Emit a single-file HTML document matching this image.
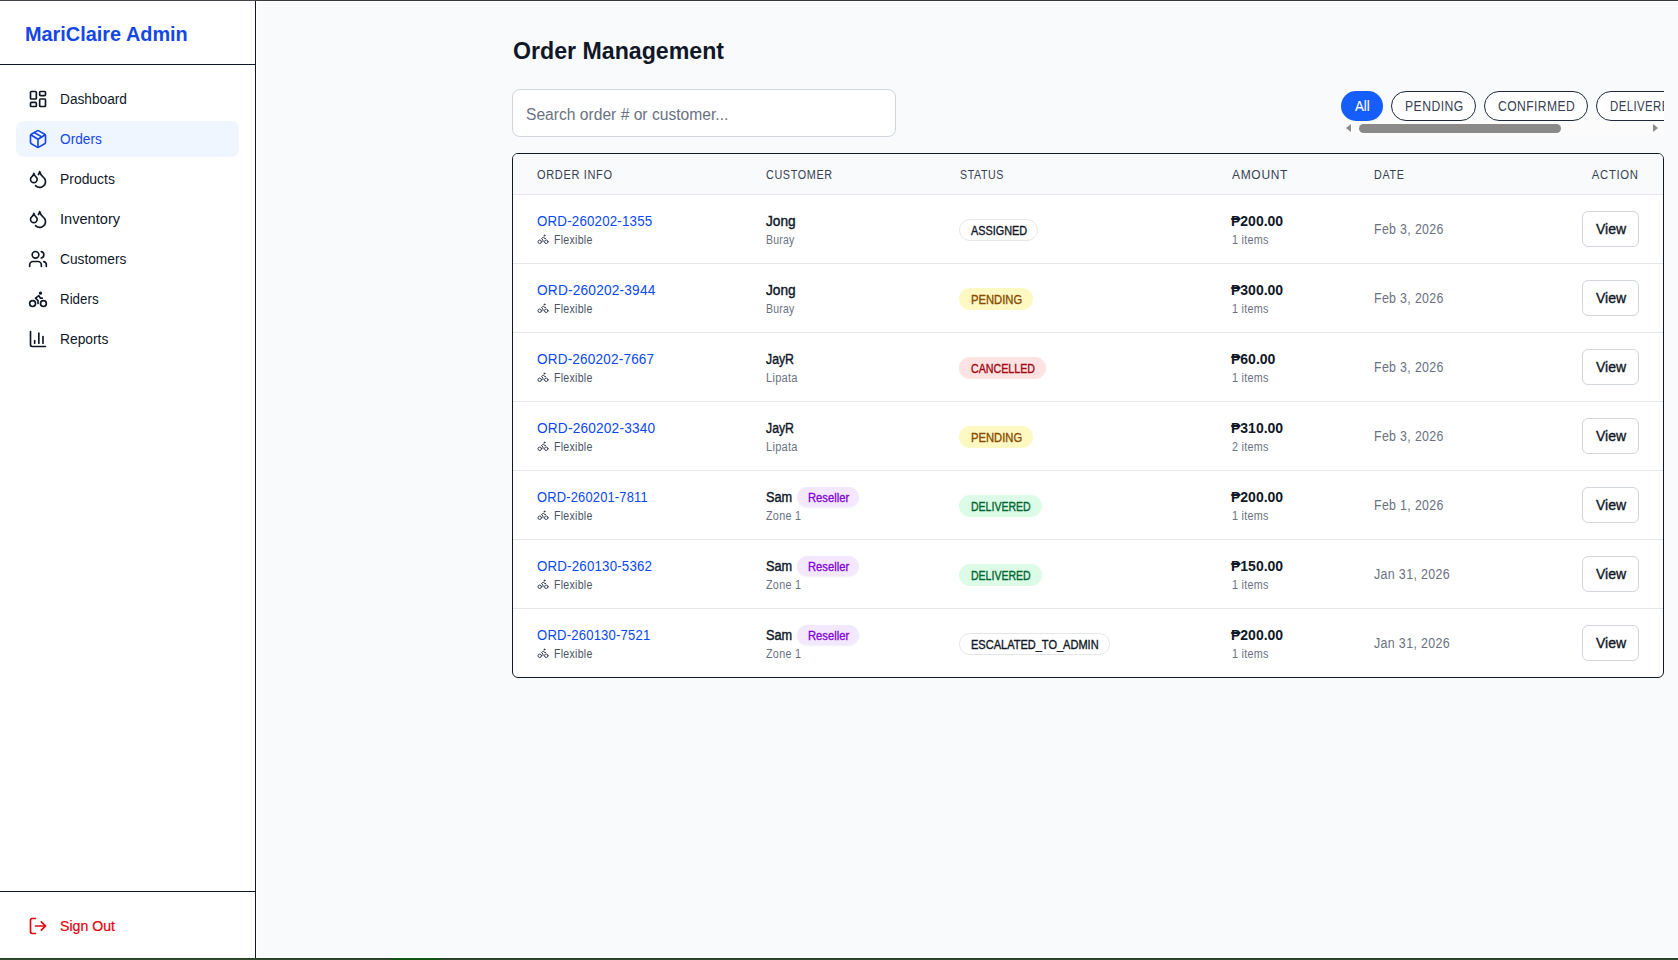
<!DOCTYPE html><html><head><meta charset="utf-8"><title>Order Management</title><style>
html,body{margin:0;padding:0;}body{width:1678px;height:960px;position:relative;overflow:hidden;background:#fff;font-family:"Liberation Sans", sans-serif;}
div,svg{box-sizing:border-box;}.t{position:absolute;white-space:nowrap;}.a{position:absolute;}
</style></head><body>
<div class="a" style="left:0;top:0;width:256px;height:1px;background:#45424a"></div>
<div class="a" style="left:256px;top:0;width:1422px;height:1px;background:#383838"></div>
<div class="a" style="left:0;top:958px;width:1678px;height:1px;background:#24401f"></div>
<div class="a" style="left:0;top:959px;width:1678px;height:1px;background:#304a30"></div>
<div class="a" style="left:392px;top:958px;width:48px;height:2px;background:#0f5814"></div>
<div class="a" style="left:257px;top:2px;width:1421px;height:955px;background:#f9fafb"></div>
<div class="a" style="left:255px;top:1px;width:1px;height:957px;background:#101828"></div>
<div class="a" style="left:0;top:64px;width:255px;height:1px;background:#101828"></div>
<div class="a" style="left:0;top:891px;width:255px;height:1px;background:#101828"></div>
<div class="t" style="left:25px;top:21.5px;height:25px;line-height:25px;font-size:20px;font-weight:700;color:#1447e6;transform:scaleX(0.9939);transform-origin:0 0;">MariClaire Admin</div>
<svg style="position:absolute;left:28px;top:89px" width="20" height="20" viewBox="0 0 24 24" fill="none" stroke="#101828" stroke-width="2" stroke-linecap="round" stroke-linejoin="round"><rect width="7" height="9" x="3" y="3" rx="1"/><rect width="7" height="5" x="14" y="3" rx="1"/><rect width="7" height="9" x="14" y="12" rx="1"/><rect width="7" height="5" x="3" y="16" rx="1"/></svg>
<div class="t" style="left:60px;top:90.0px;height:18px;line-height:18px;font-size:14px;font-weight:400;color:#101828;transform:scaleX(0.9781);transform-origin:0 0;">Dashboard</div>
<div class="a" style="left:16px;top:121px;width:223px;height:36px;border-radius:8px;background:#eff6ff"></div>
<svg style="position:absolute;left:28px;top:129px" width="20" height="20" viewBox="0 0 24 24" fill="none" stroke="#1447e6" stroke-width="2" stroke-linecap="round" stroke-linejoin="round"><path d="M11 21.73a2 2 0 0 0 2 0l7-4A2 2 0 0 0 21 16V8a2 2 0 0 0-1-1.730l-7-4a2 2 0 0 0-2 0l-7 4A2 2 0 0 0 3 8v8a2 2 0 0 0 1 1.73z"/><path d="M12 22V12"/><path d="m3.3 7 7.703 4.734a2 2 0 0 0 1.994 0L20.7 7"/><path d="m7.5 4.27 9 5.15"/></svg>
<div class="t" style="left:60px;top:130.0px;height:18px;line-height:18px;font-size:14px;font-weight:400;color:#1447e6;transform:scaleX(0.9766);transform-origin:0 0;">Orders</div>
<svg style="position:absolute;left:28px;top:169px" width="20" height="20" viewBox="0 0 24 24" fill="none" stroke="#101828" stroke-width="2" stroke-linecap="round" stroke-linejoin="round"><path d="M7 16.3c2.2 0 4-1.83 4-4.05 0-1.16-.57-2.26-1.71-3.19S7.29 6.75 7 5.3c-.29 1.45-1.14 2.84-2.29 3.76S3 11.1 3 12.25c0 2.22 1.8 4.05 4 4.05z"/><path d="M12.56 6.6A10.97 10.97 0 0 0 14 3.02c.5 2.5 2 4.9 4 6.5s3 3.5 3 5.5a6.98 6.98 0 0 1-11.91 4.97"/></svg>
<div class="t" style="left:60px;top:170.0px;height:18px;line-height:18px;font-size:14px;font-weight:400;color:#101828;transform:scaleX(0.9928);transform-origin:0 0;">Products</div>
<svg style="position:absolute;left:28px;top:209px" width="20" height="20" viewBox="0 0 24 24" fill="none" stroke="#101828" stroke-width="2" stroke-linecap="round" stroke-linejoin="round"><path d="M7 16.3c2.2 0 4-1.83 4-4.05 0-1.16-.57-2.26-1.71-3.19S7.29 6.75 7 5.3c-.29 1.45-1.14 2.84-2.29 3.76S3 11.1 3 12.25c0 2.22 1.8 4.05 4 4.05z"/><path d="M12.56 6.6A10.97 10.97 0 0 0 14 3.02c.5 2.5 2 4.9 4 6.5s3 3.5 3 5.5a6.98 6.98 0 0 1-11.91 4.97"/></svg>
<div class="t" style="left:60px;top:210.0px;height:18px;line-height:18px;font-size:14px;font-weight:400;color:#101828;transform:scaleX(1.0434);transform-origin:0 0;">Inventory</div>
<svg style="position:absolute;left:28px;top:249px" width="20" height="20" viewBox="0 0 24 24" fill="none" stroke="#101828" stroke-width="2" stroke-linecap="round" stroke-linejoin="round"><path d="M16 21v-2a4 4 0 0 0-4-4H6a4 4 0 0 0-4 4v2"/><circle cx="9" cy="7" r="4"/><path d="M22 21v-2a4 4 0 0 0-3-3.87"/><path d="M16 3.13a4 4 0 0 1 0 7.75"/></svg>
<div class="t" style="left:60px;top:250.0px;height:18px;line-height:18px;font-size:14px;font-weight:400;color:#101828;transform:scaleX(0.9808);transform-origin:0 0;">Customers</div>
<svg style="position:absolute;left:28px;top:289px" width="20" height="20" viewBox="0 0 24 24" fill="none" stroke="#101828" stroke-width="2" stroke-linecap="round" stroke-linejoin="round"><circle cx="18.5" cy="17.5" r="3.5"/><circle cx="5.5" cy="17.5" r="3.5"/><circle cx="15" cy="5" r="1"/><path d="M12 17.5V14l-3-3 4-3 2 3h2"/></svg>
<div class="t" style="left:60px;top:290.0px;height:18px;line-height:18px;font-size:14px;font-weight:400;color:#101828;transform:scaleX(0.9531);transform-origin:0 0;">Riders</div>
<svg style="position:absolute;left:28px;top:329px" width="20" height="20" viewBox="0 0 24 24" fill="none" stroke="#101828" stroke-width="2" stroke-linecap="round" stroke-linejoin="round"><path d="M3 3v16a2 2 0 0 0 2 2h16"/><path d="M18 17V9"/><path d="M13 17V5"/><path d="M8 17v-3"/></svg>
<div class="t" style="left:60px;top:330.0px;height:18px;line-height:18px;font-size:14px;font-weight:400;color:#101828;transform:scaleX(0.9857);transform-origin:0 0;">Reports</div>
<svg style="position:absolute;left:28px;top:916px" width="20" height="20" viewBox="0 0 24 24" fill="none" stroke="#e7000b" stroke-width="2" stroke-linecap="round" stroke-linejoin="round"><path d="m16 17 5-5-5-5"/><path d="M21 12H9"/><path d="M9 21H5a2 2 0 0 1-2-2V5a2 2 0 0 1 2-2h4"/></svg>
<div class="t" style="left:60px;top:917.0px;height:18px;line-height:18px;font-size:14px;font-weight:400;color:#e7000b;transform:scaleX(1.0092);transform-origin:0 0;-webkit-text-stroke:0.2px #e7000b;">Sign Out</div>
<div class="t" style="left:513px;top:35.5px;height:30px;line-height:30px;font-size:24px;font-weight:700;color:#101828;transform:scaleX(0.9648);transform-origin:0 0;">Order Management</div>
<div class="a" style="left:512px;top:89px;width:384px;height:48px;background:#fff;border:1px solid #d1d5dc;border-radius:8px"></div>
<div class="t" style="left:526px;top:104.5px;height:20px;line-height:20px;font-size:16px;font-weight:400;color:#6a7282;transform:scaleX(0.9764);transform-origin:0 0;">Search order # or customer...</div>
<div class="a" style="left:1341px;top:91px;width:323px;height:45px;overflow:hidden">
<div class="a" style="left:0px;top:0;width:42px;height:30px;border-radius:15px;background:#155dfc"></div>
<div class="t" style="left:14px;top:6.0px;height:18px;line-height:18px;font-size:14px;font-weight:400;color:#fff;transform:scaleX(0.9487);transform-origin:0 0;-webkit-text-stroke:0.1px #fff;">All</div>
<div class="a" style="left:50px;top:0;width:85px;height:30px;border-radius:15px;background:#fff;border:1px solid #1e2939"></div>
<div class="t" style="left:64px;top:6.0px;height:18px;line-height:18px;font-size:14px;font-weight:400;color:#364153;transform:scaleX(0.8713);transform-origin:0 0;letter-spacing:0.5px;">PENDING</div>
<div class="a" style="left:143px;top:0;width:104px;height:30px;border-radius:15px;background:#fff;border:1px solid #1e2939"></div>
<div class="t" style="left:157px;top:6.0px;height:18px;line-height:18px;font-size:14px;font-weight:400;color:#364153;transform:scaleX(0.8649);transform-origin:0 0;letter-spacing:0.5px;">CONFIRMED</div>
<div class="a" style="left:255px;top:0;width:110px;height:30px;border-radius:15px;background:#fff;border:1px solid #1e2939"></div>
<div class="t" style="left:269px;top:6.0px;height:18px;line-height:18px;font-size:14px;font-weight:400;color:#364153;transform:scaleX(0.8149);transform-origin:0 0;letter-spacing:0.5px;">DELIVERED</div>
<div class="a" style="left:0;top:30px;width:323px;height:15px;background:#fbfbfc"></div>
<div class="a" style="left:18px;top:33px;width:202px;height:9px;border-radius:4.5px;background:#8a8a8a"></div>
<div class="a" style="left:5px;top:33px;width:0;height:0;border-top:4.5px solid transparent;border-bottom:4.5px solid transparent;border-right:5px solid #8a8a8a"></div>
<div class="a" style="left:312px;top:33px;width:0;height:0;border-top:4.5px solid transparent;border-bottom:4.5px solid transparent;border-left:5px solid #8a8a8a"></div>
</div>
<div class="a" style="left:512px;top:153px;width:1152px;height:525px;border:1px solid #101828;border-radius:6px;background:#fff;overflow:hidden">
<div class="a" style="left:0;top:0;width:1150px;height:41px;background:#f9fafb;border-bottom:1px solid #e5e7eb"></div>
<div class="t" style="left:24px;top:13.5px;height:15px;line-height:15px;font-size:12px;font-weight:400;color:#364153;transform:scaleX(0.9191);transform-origin:0 0;letter-spacing:0.7px;">ORDER INFO</div>
<div class="t" style="left:253px;top:13.5px;height:15px;line-height:15px;font-size:12px;font-weight:400;color:#364153;transform:scaleX(0.9005);transform-origin:0 0;letter-spacing:0.7px;">CUSTOMER</div>
<div class="t" style="left:447px;top:13.5px;height:15px;line-height:15px;font-size:12px;font-weight:400;color:#364153;transform:scaleX(0.8859);transform-origin:0 0;letter-spacing:0.7px;">STATUS</div>
<div class="t" style="left:719px;top:13.5px;height:15px;line-height:15px;font-size:12px;font-weight:400;color:#364153;transform:scaleX(0.9982);transform-origin:0 0;letter-spacing:0.7px;">AMOUNT</div>
<div class="t" style="left:861px;top:13.5px;height:15px;line-height:15px;font-size:12px;font-weight:400;color:#364153;transform:scaleX(0.8976);transform-origin:0 0;letter-spacing:0.7px;">DATE</div>
<div class="t" style="right:24.4px;top:13.5px;height:15px;line-height:15px;font-size:12px;font-weight:400;color:#364153;transform:scaleX(0.9426);transform-origin:100% 0;letter-spacing:0.7px;">ACTION</div>
<div class="a" style="left:0;top:109px;width:1150px;height:1px;background:#e5e7eb"></div>
<div class="t" style="left:24px;top:58.0px;height:18px;line-height:18px;font-size:14px;font-weight:400;color:#0a48f5;transform:scaleX(0.9513);transform-origin:0 0;letter-spacing:0.2px;">ORD-260202-1355</div>
<svg style="position:absolute;left:24px;top:79px" width="12" height="12" viewBox="0 0 24 24" fill="none" stroke="#364153" stroke-width="2" stroke-linecap="round" stroke-linejoin="round"><circle cx="18.5" cy="17.5" r="3.5"/><circle cx="5.5" cy="17.5" r="3.5"/><circle cx="15" cy="5" r="1"/><path d="M12 17.5V14l-3-3 4-3 2 3h2"/></svg>
<div class="t" style="left:41px;top:78.5px;height:15px;line-height:15px;font-size:12px;font-weight:400;color:#4a5565;transform:scaleX(0.8813);transform-origin:0 0;letter-spacing:0.3px;">Flexible</div>
<div class="t" style="left:253px;top:58.0px;height:18px;line-height:18px;font-size:14px;font-weight:400;color:#101828;transform:scaleX(0.9770);transform-origin:0 0;-webkit-text-stroke:0.4px #101828;">Jong</div>
<div class="t" style="left:253px;top:78.5px;height:15px;line-height:15px;font-size:12px;font-weight:400;color:#6a7282;transform:scaleX(0.8708);transform-origin:0 0;letter-spacing:0.3px;">Buray</div>
<div class="a" style="left:446px;top:65px;width:79px;height:22px;border-radius:11px;background:#fff;border:1px solid #e5e7eb"></div>
<div class="t" style="left:458px;top:69.5px;height:15px;line-height:15px;font-size:12px;font-weight:400;color:#101828;transform:scaleX(0.9032);transform-origin:0 0;-webkit-text-stroke:0.35px #101828;">ASSIGNED</div>
<div class="t" style="left:718px;top:58.0px;height:18px;line-height:18px;font-size:14px;font-weight:700;color:#101828;">₱200.00</div>
<div class="t" style="left:719px;top:78.5px;height:15px;line-height:15px;font-size:12px;font-weight:400;color:#6a7282;transform:scaleX(0.8982);transform-origin:0 0;letter-spacing:0.3px;">1 items</div>
<div class="t" style="left:861px;top:66.0px;height:18px;line-height:18px;font-size:14px;font-weight:400;color:#6a7282;transform:scaleX(0.8818);transform-origin:0 0;letter-spacing:0.4px;">Feb 3, 2026</div>
<div class="a" style="left:1069px;top:57px;width:57px;height:36px;border-radius:6px;background:#fff;border:1px solid #d1d5dc"></div>
<div class="t" style="left:1083px;top:66.0px;height:18px;line-height:18px;font-size:14px;font-weight:400;color:#101828;transform:scaleX(1.0033);transform-origin:0 0;-webkit-text-stroke:0.35px #101828;">View</div>
<div class="a" style="left:0;top:178px;width:1150px;height:1px;background:#e5e7eb"></div>
<div class="t" style="left:24px;top:127.0px;height:18px;line-height:18px;font-size:14px;font-weight:400;color:#0a48f5;transform:scaleX(0.9769);transform-origin:0 0;letter-spacing:0.2px;">ORD-260202-3944</div>
<svg style="position:absolute;left:24px;top:148px" width="12" height="12" viewBox="0 0 24 24" fill="none" stroke="#364153" stroke-width="2" stroke-linecap="round" stroke-linejoin="round"><circle cx="18.5" cy="17.5" r="3.5"/><circle cx="5.5" cy="17.5" r="3.5"/><circle cx="15" cy="5" r="1"/><path d="M12 17.5V14l-3-3 4-3 2 3h2"/></svg>
<div class="t" style="left:41px;top:147.5px;height:15px;line-height:15px;font-size:12px;font-weight:400;color:#4a5565;transform:scaleX(0.8813);transform-origin:0 0;letter-spacing:0.3px;">Flexible</div>
<div class="t" style="left:253px;top:127.0px;height:18px;line-height:18px;font-size:14px;font-weight:400;color:#101828;transform:scaleX(0.9770);transform-origin:0 0;-webkit-text-stroke:0.4px #101828;">Jong</div>
<div class="t" style="left:253px;top:147.5px;height:15px;line-height:15px;font-size:12px;font-weight:400;color:#6a7282;transform:scaleX(0.8708);transform-origin:0 0;letter-spacing:0.3px;">Buray</div>
<div class="a" style="left:446px;top:134px;width:74px;height:22px;border-radius:11px;background:#fef9c2;border:none"></div>
<div class="t" style="left:458px;top:138.5px;height:15px;line-height:15px;font-size:12px;font-weight:400;color:#894b00;transform:scaleX(0.9360);transform-origin:0 0;-webkit-text-stroke:0.35px #894b00;">PENDING</div>
<div class="t" style="left:718px;top:127.0px;height:18px;line-height:18px;font-size:14px;font-weight:700;color:#101828;">₱300.00</div>
<div class="t" style="left:719px;top:147.5px;height:15px;line-height:15px;font-size:12px;font-weight:400;color:#6a7282;transform:scaleX(0.8982);transform-origin:0 0;letter-spacing:0.3px;">1 items</div>
<div class="t" style="left:861px;top:135.0px;height:18px;line-height:18px;font-size:14px;font-weight:400;color:#6a7282;transform:scaleX(0.8818);transform-origin:0 0;letter-spacing:0.4px;">Feb 3, 2026</div>
<div class="a" style="left:1069px;top:126px;width:57px;height:36px;border-radius:6px;background:#fff;border:1px solid #d1d5dc"></div>
<div class="t" style="left:1083px;top:135.0px;height:18px;line-height:18px;font-size:14px;font-weight:400;color:#101828;transform:scaleX(1.0033);transform-origin:0 0;-webkit-text-stroke:0.35px #101828;">View</div>
<div class="a" style="left:0;top:247px;width:1150px;height:1px;background:#e5e7eb"></div>
<div class="t" style="left:24px;top:196.0px;height:18px;line-height:18px;font-size:14px;font-weight:400;color:#0a48f5;transform:scaleX(0.9670);transform-origin:0 0;letter-spacing:0.2px;">ORD-260202-7667</div>
<svg style="position:absolute;left:24px;top:217px" width="12" height="12" viewBox="0 0 24 24" fill="none" stroke="#364153" stroke-width="2" stroke-linecap="round" stroke-linejoin="round"><circle cx="18.5" cy="17.5" r="3.5"/><circle cx="5.5" cy="17.5" r="3.5"/><circle cx="15" cy="5" r="1"/><path d="M12 17.5V14l-3-3 4-3 2 3h2"/></svg>
<div class="t" style="left:41px;top:216.5px;height:15px;line-height:15px;font-size:12px;font-weight:400;color:#4a5565;transform:scaleX(0.8813);transform-origin:0 0;letter-spacing:0.3px;">Flexible</div>
<div class="t" style="left:253px;top:196.0px;height:18px;line-height:18px;font-size:14px;font-weight:400;color:#101828;transform:scaleX(0.8777);transform-origin:0 0;-webkit-text-stroke:0.4px #101828;">JayR</div>
<div class="t" style="left:253px;top:216.5px;height:15px;line-height:15px;font-size:12px;font-weight:400;color:#6a7282;transform:scaleX(0.9211);transform-origin:0 0;letter-spacing:0.3px;">Lipata</div>
<div class="a" style="left:446px;top:203px;width:87px;height:22px;border-radius:11px;background:#ffe2e2;border:none"></div>
<div class="t" style="left:458px;top:207.5px;height:15px;line-height:15px;font-size:12px;font-weight:400;color:#9f0712;transform:scaleX(0.8875);transform-origin:0 0;-webkit-text-stroke:0.35px #9f0712;">CANCELLED</div>
<div class="t" style="left:718px;top:196.0px;height:18px;line-height:18px;font-size:14px;font-weight:700;color:#101828;">₱60.00</div>
<div class="t" style="left:719px;top:216.5px;height:15px;line-height:15px;font-size:12px;font-weight:400;color:#6a7282;transform:scaleX(0.8982);transform-origin:0 0;letter-spacing:0.3px;">1 items</div>
<div class="t" style="left:861px;top:204.0px;height:18px;line-height:18px;font-size:14px;font-weight:400;color:#6a7282;transform:scaleX(0.8818);transform-origin:0 0;letter-spacing:0.4px;">Feb 3, 2026</div>
<div class="a" style="left:1069px;top:195px;width:57px;height:36px;border-radius:6px;background:#fff;border:1px solid #d1d5dc"></div>
<div class="t" style="left:1083px;top:204.0px;height:18px;line-height:18px;font-size:14px;font-weight:400;color:#101828;transform:scaleX(1.0033);transform-origin:0 0;-webkit-text-stroke:0.35px #101828;">View</div>
<div class="a" style="left:0;top:316px;width:1150px;height:1px;background:#e5e7eb"></div>
<div class="t" style="left:24px;top:265.0px;height:18px;line-height:18px;font-size:14px;font-weight:400;color:#0a48f5;transform:scaleX(0.9752);transform-origin:0 0;letter-spacing:0.2px;">ORD-260202-3340</div>
<svg style="position:absolute;left:24px;top:286px" width="12" height="12" viewBox="0 0 24 24" fill="none" stroke="#364153" stroke-width="2" stroke-linecap="round" stroke-linejoin="round"><circle cx="18.5" cy="17.5" r="3.5"/><circle cx="5.5" cy="17.5" r="3.5"/><circle cx="15" cy="5" r="1"/><path d="M12 17.5V14l-3-3 4-3 2 3h2"/></svg>
<div class="t" style="left:41px;top:285.5px;height:15px;line-height:15px;font-size:12px;font-weight:400;color:#4a5565;transform:scaleX(0.8813);transform-origin:0 0;letter-spacing:0.3px;">Flexible</div>
<div class="t" style="left:253px;top:265.0px;height:18px;line-height:18px;font-size:14px;font-weight:400;color:#101828;transform:scaleX(0.8777);transform-origin:0 0;-webkit-text-stroke:0.4px #101828;">JayR</div>
<div class="t" style="left:253px;top:285.5px;height:15px;line-height:15px;font-size:12px;font-weight:400;color:#6a7282;transform:scaleX(0.9211);transform-origin:0 0;letter-spacing:0.3px;">Lipata</div>
<div class="a" style="left:446px;top:272px;width:74px;height:22px;border-radius:11px;background:#fef9c2;border:none"></div>
<div class="t" style="left:458px;top:276.5px;height:15px;line-height:15px;font-size:12px;font-weight:400;color:#894b00;transform:scaleX(0.9360);transform-origin:0 0;-webkit-text-stroke:0.35px #894b00;">PENDING</div>
<div class="t" style="left:718px;top:265.0px;height:18px;line-height:18px;font-size:14px;font-weight:700;color:#101828;">₱310.00</div>
<div class="t" style="left:719px;top:285.5px;height:15px;line-height:15px;font-size:12px;font-weight:400;color:#6a7282;transform:scaleX(0.8982);transform-origin:0 0;letter-spacing:0.3px;">2 items</div>
<div class="t" style="left:861px;top:273.0px;height:18px;line-height:18px;font-size:14px;font-weight:400;color:#6a7282;transform:scaleX(0.8818);transform-origin:0 0;letter-spacing:0.4px;">Feb 3, 2026</div>
<div class="a" style="left:1069px;top:264px;width:57px;height:36px;border-radius:6px;background:#fff;border:1px solid #d1d5dc"></div>
<div class="t" style="left:1083px;top:273.0px;height:18px;line-height:18px;font-size:14px;font-weight:400;color:#101828;transform:scaleX(1.0033);transform-origin:0 0;-webkit-text-stroke:0.35px #101828;">View</div>
<div class="a" style="left:0;top:385px;width:1150px;height:1px;background:#e5e7eb"></div>
<div class="t" style="left:24px;top:334.0px;height:18px;line-height:18px;font-size:14px;font-weight:400;color:#0a48f5;transform:scaleX(0.9217);transform-origin:0 0;letter-spacing:0.2px;">ORD-260201-7811</div>
<svg style="position:absolute;left:24px;top:355px" width="12" height="12" viewBox="0 0 24 24" fill="none" stroke="#364153" stroke-width="2" stroke-linecap="round" stroke-linejoin="round"><circle cx="18.5" cy="17.5" r="3.5"/><circle cx="5.5" cy="17.5" r="3.5"/><circle cx="15" cy="5" r="1"/><path d="M12 17.5V14l-3-3 4-3 2 3h2"/></svg>
<div class="t" style="left:41px;top:354.5px;height:15px;line-height:15px;font-size:12px;font-weight:400;color:#4a5565;transform:scaleX(0.8813);transform-origin:0 0;letter-spacing:0.3px;">Flexible</div>
<div class="t" style="left:253px;top:334.0px;height:18px;line-height:18px;font-size:14px;font-weight:400;color:#101828;transform:scaleX(0.9097);transform-origin:0 0;-webkit-text-stroke:0.4px #101828;">Sam</div>
<div class="a" style="left:284px;top:333px;width:62px;height:20px;border-radius:10px;background:#f3e8ff;box-shadow:0 1px 2px rgba(0,0,0,0.06)"></div>
<div class="t" style="left:295px;top:336.5px;height:15px;line-height:15px;font-size:12px;font-weight:400;color:#8200db;transform:scaleX(0.9341);transform-origin:0 0;-webkit-text-stroke:0.3px #8200db;">Reseller</div>
<div class="t" style="left:253px;top:354.5px;height:15px;line-height:15px;font-size:12px;font-weight:400;color:#6a7282;transform:scaleX(0.8997);transform-origin:0 0;letter-spacing:0.3px;">Zone 1</div>
<div class="a" style="left:446px;top:341px;width:83px;height:22px;border-radius:11px;background:#dcfce7;border:none"></div>
<div class="t" style="left:458px;top:345.5px;height:15px;line-height:15px;font-size:12px;font-weight:400;color:#016630;transform:scaleX(0.8765);transform-origin:0 0;-webkit-text-stroke:0.35px #016630;">DELIVERED</div>
<div class="t" style="left:718px;top:334.0px;height:18px;line-height:18px;font-size:14px;font-weight:700;color:#101828;">₱200.00</div>
<div class="t" style="left:719px;top:354.5px;height:15px;line-height:15px;font-size:12px;font-weight:400;color:#6a7282;transform:scaleX(0.8982);transform-origin:0 0;letter-spacing:0.3px;">1 items</div>
<div class="t" style="left:861px;top:342.0px;height:18px;line-height:18px;font-size:14px;font-weight:400;color:#6a7282;transform:scaleX(0.8818);transform-origin:0 0;letter-spacing:0.4px;">Feb 1, 2026</div>
<div class="a" style="left:1069px;top:333px;width:57px;height:36px;border-radius:6px;background:#fff;border:1px solid #d1d5dc"></div>
<div class="t" style="left:1083px;top:342.0px;height:18px;line-height:18px;font-size:14px;font-weight:400;color:#101828;transform:scaleX(1.0033);transform-origin:0 0;-webkit-text-stroke:0.35px #101828;">View</div>
<div class="a" style="left:0;top:454px;width:1150px;height:1px;background:#e5e7eb"></div>
<div class="t" style="left:24px;top:403.0px;height:18px;line-height:18px;font-size:14px;font-weight:400;color:#0a48f5;transform:scaleX(0.9496);transform-origin:0 0;letter-spacing:0.2px;">ORD-260130-5362</div>
<svg style="position:absolute;left:24px;top:424px" width="12" height="12" viewBox="0 0 24 24" fill="none" stroke="#364153" stroke-width="2" stroke-linecap="round" stroke-linejoin="round"><circle cx="18.5" cy="17.5" r="3.5"/><circle cx="5.5" cy="17.5" r="3.5"/><circle cx="15" cy="5" r="1"/><path d="M12 17.5V14l-3-3 4-3 2 3h2"/></svg>
<div class="t" style="left:41px;top:423.5px;height:15px;line-height:15px;font-size:12px;font-weight:400;color:#4a5565;transform:scaleX(0.8813);transform-origin:0 0;letter-spacing:0.3px;">Flexible</div>
<div class="t" style="left:253px;top:403.0px;height:18px;line-height:18px;font-size:14px;font-weight:400;color:#101828;transform:scaleX(0.9097);transform-origin:0 0;-webkit-text-stroke:0.4px #101828;">Sam</div>
<div class="a" style="left:284px;top:402px;width:62px;height:20px;border-radius:10px;background:#f3e8ff;box-shadow:0 1px 2px rgba(0,0,0,0.06)"></div>
<div class="t" style="left:295px;top:405.5px;height:15px;line-height:15px;font-size:12px;font-weight:400;color:#8200db;transform:scaleX(0.9341);transform-origin:0 0;-webkit-text-stroke:0.3px #8200db;">Reseller</div>
<div class="t" style="left:253px;top:423.5px;height:15px;line-height:15px;font-size:12px;font-weight:400;color:#6a7282;transform:scaleX(0.8997);transform-origin:0 0;letter-spacing:0.3px;">Zone 1</div>
<div class="a" style="left:446px;top:410px;width:83px;height:22px;border-radius:11px;background:#dcfce7;border:none"></div>
<div class="t" style="left:458px;top:414.5px;height:15px;line-height:15px;font-size:12px;font-weight:400;color:#016630;transform:scaleX(0.8765);transform-origin:0 0;-webkit-text-stroke:0.35px #016630;">DELIVERED</div>
<div class="t" style="left:718px;top:403.0px;height:18px;line-height:18px;font-size:14px;font-weight:700;color:#101828;">₱150.00</div>
<div class="t" style="left:719px;top:423.5px;height:15px;line-height:15px;font-size:12px;font-weight:400;color:#6a7282;transform:scaleX(0.8982);transform-origin:0 0;letter-spacing:0.3px;">1 items</div>
<div class="t" style="left:861px;top:411.0px;height:18px;line-height:18px;font-size:14px;font-weight:400;color:#6a7282;transform:scaleX(0.8864);transform-origin:0 0;letter-spacing:0.4px;">Jan 31, 2026</div>
<div class="a" style="left:1069px;top:402px;width:57px;height:36px;border-radius:6px;background:#fff;border:1px solid #d1d5dc"></div>
<div class="t" style="left:1083px;top:411.0px;height:18px;line-height:18px;font-size:14px;font-weight:400;color:#101828;transform:scaleX(1.0033);transform-origin:0 0;-webkit-text-stroke:0.35px #101828;">View</div>
<div class="t" style="left:24px;top:472.0px;height:18px;line-height:18px;font-size:14px;font-weight:400;color:#0a48f5;transform:scaleX(0.9356);transform-origin:0 0;letter-spacing:0.2px;">ORD-260130-7521</div>
<svg style="position:absolute;left:24px;top:493px" width="12" height="12" viewBox="0 0 24 24" fill="none" stroke="#364153" stroke-width="2" stroke-linecap="round" stroke-linejoin="round"><circle cx="18.5" cy="17.5" r="3.5"/><circle cx="5.5" cy="17.5" r="3.5"/><circle cx="15" cy="5" r="1"/><path d="M12 17.5V14l-3-3 4-3 2 3h2"/></svg>
<div class="t" style="left:41px;top:492.5px;height:15px;line-height:15px;font-size:12px;font-weight:400;color:#4a5565;transform:scaleX(0.8813);transform-origin:0 0;letter-spacing:0.3px;">Flexible</div>
<div class="t" style="left:253px;top:472.0px;height:18px;line-height:18px;font-size:14px;font-weight:400;color:#101828;transform:scaleX(0.9097);transform-origin:0 0;-webkit-text-stroke:0.4px #101828;">Sam</div>
<div class="a" style="left:284px;top:471px;width:62px;height:20px;border-radius:10px;background:#f3e8ff;box-shadow:0 1px 2px rgba(0,0,0,0.06)"></div>
<div class="t" style="left:295px;top:474.5px;height:15px;line-height:15px;font-size:12px;font-weight:400;color:#8200db;transform:scaleX(0.9341);transform-origin:0 0;-webkit-text-stroke:0.3px #8200db;">Reseller</div>
<div class="t" style="left:253px;top:492.5px;height:15px;line-height:15px;font-size:12px;font-weight:400;color:#6a7282;transform:scaleX(0.8997);transform-origin:0 0;letter-spacing:0.3px;">Zone 1</div>
<div class="a" style="left:446px;top:479px;width:151px;height:22px;border-radius:11px;background:#fff;border:1px solid #e5e7eb"></div>
<div class="t" style="left:458px;top:483.5px;height:15px;line-height:15px;font-size:12px;font-weight:400;color:#101828;transform:scaleX(0.9186);transform-origin:0 0;-webkit-text-stroke:0.35px #101828;">ESCALATED_TO_ADMIN</div>
<div class="t" style="left:718px;top:472.0px;height:18px;line-height:18px;font-size:14px;font-weight:700;color:#101828;">₱200.00</div>
<div class="t" style="left:719px;top:492.5px;height:15px;line-height:15px;font-size:12px;font-weight:400;color:#6a7282;transform:scaleX(0.8982);transform-origin:0 0;letter-spacing:0.3px;">1 items</div>
<div class="t" style="left:861px;top:480.0px;height:18px;line-height:18px;font-size:14px;font-weight:400;color:#6a7282;transform:scaleX(0.8864);transform-origin:0 0;letter-spacing:0.4px;">Jan 31, 2026</div>
<div class="a" style="left:1069px;top:471px;width:57px;height:36px;border-radius:6px;background:#fff;border:1px solid #d1d5dc"></div>
<div class="t" style="left:1083px;top:480.0px;height:18px;line-height:18px;font-size:14px;font-weight:400;color:#101828;transform:scaleX(1.0033);transform-origin:0 0;-webkit-text-stroke:0.35px #101828;">View</div>
</div>
</body></html>
